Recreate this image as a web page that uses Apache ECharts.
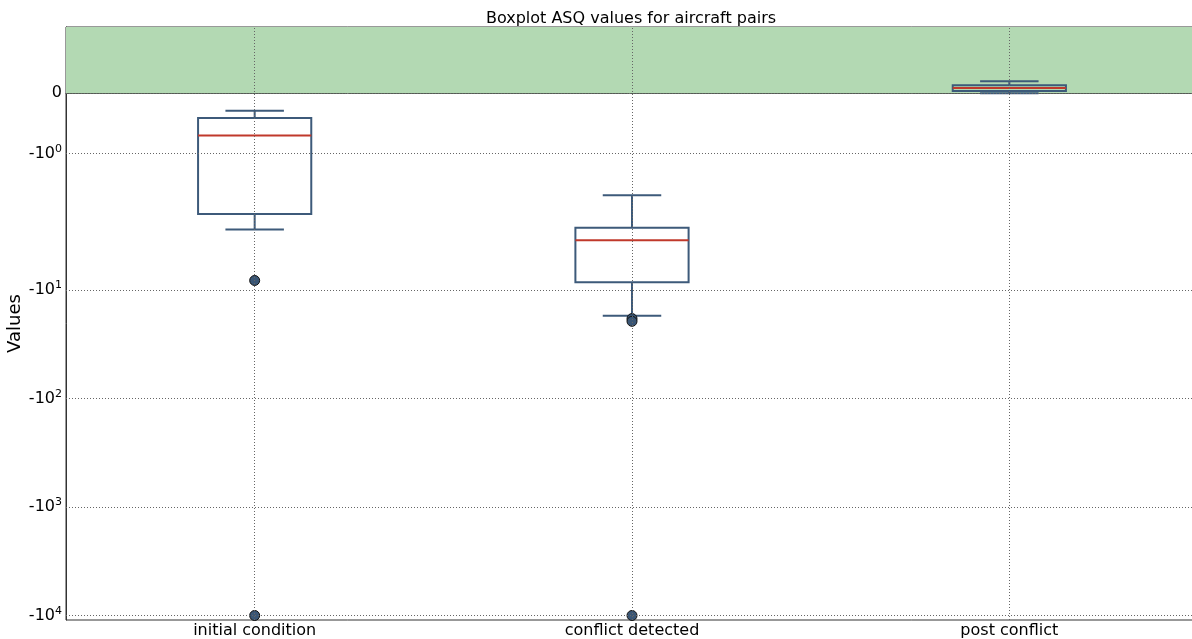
<!DOCTYPE html>
<html><head><meta charset="utf-8">
<script src="https://cdn.jsdelivr.net/npm/echarts@6/dist/echarts.min.js"></script>
<style>html,body{margin:0;padding:0;background:#fff}#c{width:1192px;height:639px}</style>
</head><body><div id="c"></div>
<script>
const categories = ['initial condition', 'conflict detected', 'post conflict'];
const whiskerLow  = [-2.78, -17.3, 0];
const q1          = [-2.0, -8.5, 0.038];
const median      = [-0.697, -3.49, 0.088];
const q3          = [-0.41, -2.68, 0.133];
const whiskerHigh = [-0.287, -1.69, 0.2];
const outlierCategory = [0, 0, 1, 1, 1];
const outlierValue    = [-8.2, -10000, -18.4, -19.5, -10000];
const yTickValues = [0, -1, -10, -100, -1000, -10000];
const yTickLabels = ['0', '-10^0', '-10^1', '-10^2', '-10^3', '-10^4'];
const yMinRaw = -11000, yMaxRaw = 1.1;

// matplotlib-style symlog: linthresh 2, linscale 1, base 10
const LT = 2, ADJ = 1 / (1 - 1 / 10);
function symlog(v) {
  const a = Math.abs(v), s = Math.sign(v);
  if (a <= LT) return v * ADJ;
  return s * LT * (ADJ + Math.log10(a / LT));
}
const tickPos = yTickValues.map(symlog);
function fmtLabel(val) {
  let idx = -1, best = 1e9;
  tickPos.forEach((p, i) => { const d = Math.abs(p - val); if (d < best) { best = d; idx = i; } });
  if (idx < 0 || best > 1e-6) return '';
  const t = yTickLabels[idx];
  const parts = t.split('^');
  if (parts.length === 1) return '{b|' + parts[0] + '}';
  return '{b|' + parts[0] + '}{s|' + parts[1] + '}';
}

const FONT = 'DejaVu Sans';
const EDGE = '#3d5a7a';
const GRIDC = '#666';

const boxData = categories.map((c, i) => [i,
  symlog(whiskerLow[i]), symlog(q1[i]), symlog(median[i]), symlog(q3[i]), symlog(whiskerHigh[i])]);
const outData = outlierValue.map((v, i) => [outlierCategory[i], symlog(v)]);

const chart = echarts.init(document.getElementById('c'));
chart.setOption({
  animation: false,
  backgroundColor: '#fff',
  textStyle: { fontFamily: FONT },
  title: {
    text: 'Boxplot ASQ values for aircraft pairs',
    left: 626, top: 6, textAlign: 'center',
    textStyle: { fontFamily: FONT, fontSize: 16, fontWeight: 'normal', color: '#000' }
  },
  grid: { left: 66, top: 27, bottom: 19, right: -6, outerBoundsMode: 'none', containLabel: false, show: true, borderColor: '#333', borderWidth: 1, backgroundColor: 'transparent' },
  xAxis: {
    type: 'category', data: categories, boundaryGap: true,
    axisLine: { show: true, lineStyle: { color: '#333', width: 1 } },
    axisTick: { show: true, alignWithLabel: true, inside: true, length: 4, lineStyle: { color: '#333' } },
    axisLabel: { fontFamily: FONT, fontSize: 16, color: '#000', margin: 3 },
    splitLine: { show: false }
  },
  yAxis: {
    type: 'value', min: symlog(yMinRaw), max: symlog(yMaxRaw),
    name: 'Values', nameLocation: 'middle', nameGap: 42, nameRotate: 90, nameMoveOverlap: false,
    nameTextStyle: { fontFamily: FONT, fontSize: 18, color: '#000' },
    axisLine: { show: true, lineStyle: { color: '#333', width: 1 } },
    axisTick: { show: false },
    axisLabel: {
      customValues: tickPos, margin: 4, color: '#000',
      formatter: fmtLabel,
      rich: {
        b: { fontFamily: FONT, fontSize: 16, color: '#000', lineHeight: 20 },
        s: { fontFamily: FONT, fontSize: 11, color: '#000', verticalAlign: 'top', lineHeight: 20, padding: [0, 0, 8, 0] }
      }
    },
    splitLine: { show: false }
  },
  series: [
    {
      type: 'scatter', data: [], z: 1, silent: true,
      markArea: {
        silent: true,
        itemStyle: { color: '#b3d9b3' },
        data: [[{ yAxis: symlog(0) }, { yAxis: symlog(yMaxRaw) }]]
      }
    },
    {
      type: 'scatter', data: [], z: 2, silent: true,
      markLine: {
        silent: true, symbol: 'none', label: { show: false },
        lineStyle: { color: GRIDC, type: [1, 2], width: 1 },
        data: tickPos.map(p => ({ yAxis: p })).concat(categories.map(c => ({ xAxis: c })))
      }
    },
    {
      type: 'custom', z: 3,
      data: boxData,
      encode: { x: 0, y: [1, 2, 3, 4, 5] },
      renderItem: function (params, api) {
        const x = api.value(0);
        const band = api.size([1, 0])[0];
        const boxW = band * 0.3, capW = band * 0.155;
        const pLo = api.coord([x, api.value(1)]);
        const pQ1 = api.coord([x, api.value(2)]);
        const pMed = api.coord([x, api.value(3)]);
        const pQ3 = api.coord([x, api.value(4)]);
        const pHi = api.coord([x, api.value(5)]);
        const cx = pLo[0];
        const st = { stroke: EDGE, lineWidth: 2, fill: null };
        return {
          type: 'group',
          children: [
            { type: 'line', shape: { x1: cx, y1: pLo[1], x2: cx, y2: pQ1[1] }, style: st },
            { type: 'line', shape: { x1: cx, y1: pQ3[1], x2: cx, y2: pHi[1] }, style: st },
            { type: 'line', shape: { x1: cx - capW / 2, y1: pLo[1], x2: cx + capW / 2, y2: pLo[1] }, style: st },
            { type: 'line', shape: { x1: cx - capW / 2, y1: pHi[1], x2: cx + capW / 2, y2: pHi[1] }, style: st },
            { type: 'rect', shape: { x: cx - boxW / 2, y: pQ3[1], width: boxW, height: pQ1[1] - pQ3[1] }, style: { stroke: EDGE, lineWidth: 2, fill: 'transparent' } },
            { type: 'line', shape: { x1: cx - boxW / 2, y1: pMed[1], x2: cx + boxW / 2, y2: pMed[1] }, style: { stroke: '#c0392b', lineWidth: 2 } }
          ]
        };
      }
    },
    {
      type: 'scatter', z: 4, data: outData,
      symbol: 'circle', symbolSize: 10,
      itemStyle: { color: '#3a5675', borderColor: '#111', borderWidth: 1, opacity: 1 }
    }
  ]
});
</script>
</body></html>
